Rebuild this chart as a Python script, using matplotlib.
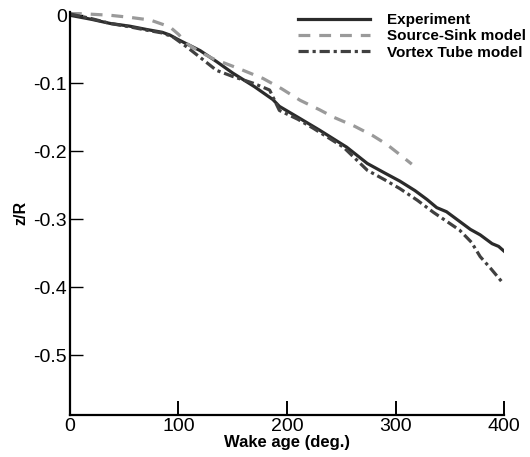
"""
Rotor wake descent z/R against wake age: experiment vs two models.
"""
import matplotlib
matplotlib.use("Agg")
import matplotlib.pyplot as plt

plt.rcParams["font.family"] = ["Liberation Sans", "DejaVu Sans"]

# Experiment
exp_age = [0, 20, 37, 55, 71, 85, 92, 100, 110, 120, 135, 150, 170, 187, 193, 210,
           230, 255, 274, 290, 304, 318, 329, 338, 347, 358, 369, 378, 389, 395, 400]
exp_z = [0, -0.006, -0.012, -0.016, -0.021, -0.025, -0.029, -0.036, -0.044, -0.052,
         -0.068, -0.085, -0.105, -0.124, -0.134, -0.150, -0.169, -0.194, -0.218,
         -0.232, -0.244, -0.258, -0.271, -0.283, -0.289, -0.302, -0.315, -0.323,
         -0.336, -0.340, -0.347]

# Source-Sink model
ss_age = [0, 15, 37, 55, 74, 92, 100, 108, 120, 132, 155, 178, 195, 212, 230, 243,
          262, 279, 292, 304, 315]
ss_z = [0.003, 0.002, 0.0, -0.003, -0.007, -0.017, -0.028, -0.042, -0.054, -0.064,
        -0.078, -0.093, -0.108, -0.125, -0.139, -0.150, -0.163, -0.177, -0.190,
        -0.205, -0.219]

# Vortex Tube model
vt_age = [0, 20, 37, 55, 71, 85, 95, 108, 120, 135, 150, 169, 184, 193, 210, 224,
          252, 274, 290, 304, 320, 335, 359, 370, 378, 388, 399]
vt_z = [0.002, -0.005, -0.012, -0.017, -0.022, -0.026, -0.032, -0.047, -0.062,
        -0.081, -0.090, -0.100, -0.110, -0.140, -0.153, -0.166, -0.194, -0.228,
        -0.242, -0.255, -0.272, -0.290, -0.316, -0.334, -0.355, -0.373, -0.394]

x_ticks = [0, 100, 200, 300, 400]
y_ticks = [0, -0.1, -0.2, -0.3, -0.4, -0.5]
y_tick_labels = ["0", "-0.1", "-0.2", "-0.3", "-0.4", "-0.5"]

fig = plt.figure(figsize=(5.30, 4.57), dpi=100)
ax = fig.add_axes([0.132, 0.092, 0.819, 0.882])

ax.plot(exp_age, exp_z, color="#2b2b2b", lw=2.3, label="Experiment")
ax.plot(ss_age, ss_z, color="#9a9a9a", lw=2.3, dashes=(3.7, 2.8), label="Source-Sink model")
ax.plot(vt_age, vt_z, color="#404040", lw=2.3, dashes=(3.2, 1.2, 1, 1.2),
        label="Vortex Tube model")

ax.set_xlim(0, 400)
ax.set_ylim(-0.588, 0.005)
ax.set_xticks(x_ticks)
ax.set_yticks(y_ticks)
ax.set_yticklabels(y_tick_labels)

for side in ["top", "right"]:
    ax.spines[side].set_visible(False)
for side in ["left", "bottom"]:
    ax.spines[side].set_linewidth(1.6)

ax.tick_params(axis="x", direction="in", length=10, width=1.4, labelsize=14, pad=2)
ax.tick_params(axis="y", direction="in", length=9, width=1.0, labelsize=14, pad=2)

ax.set_xlabel("Wake age (deg.)", fontsize=12, fontweight="bold", labelpad=0.5)
ax.set_ylabel("z/R", fontsize=11.5, fontweight="bold", labelpad=4)

ax.legend(loc="upper left", bbox_to_anchor=(298 / 530, 1 - 13 / 457),
          bbox_transform=fig.transFigure, frameon=False, borderpad=0,
          borderaxespad=0, prop={"size": 11, "weight": "bold"},
          handlelength=4.7, labelspacing=0.15, handletextpad=1.1)

fig.savefig("out.png", dpi=100)
plt.close()
